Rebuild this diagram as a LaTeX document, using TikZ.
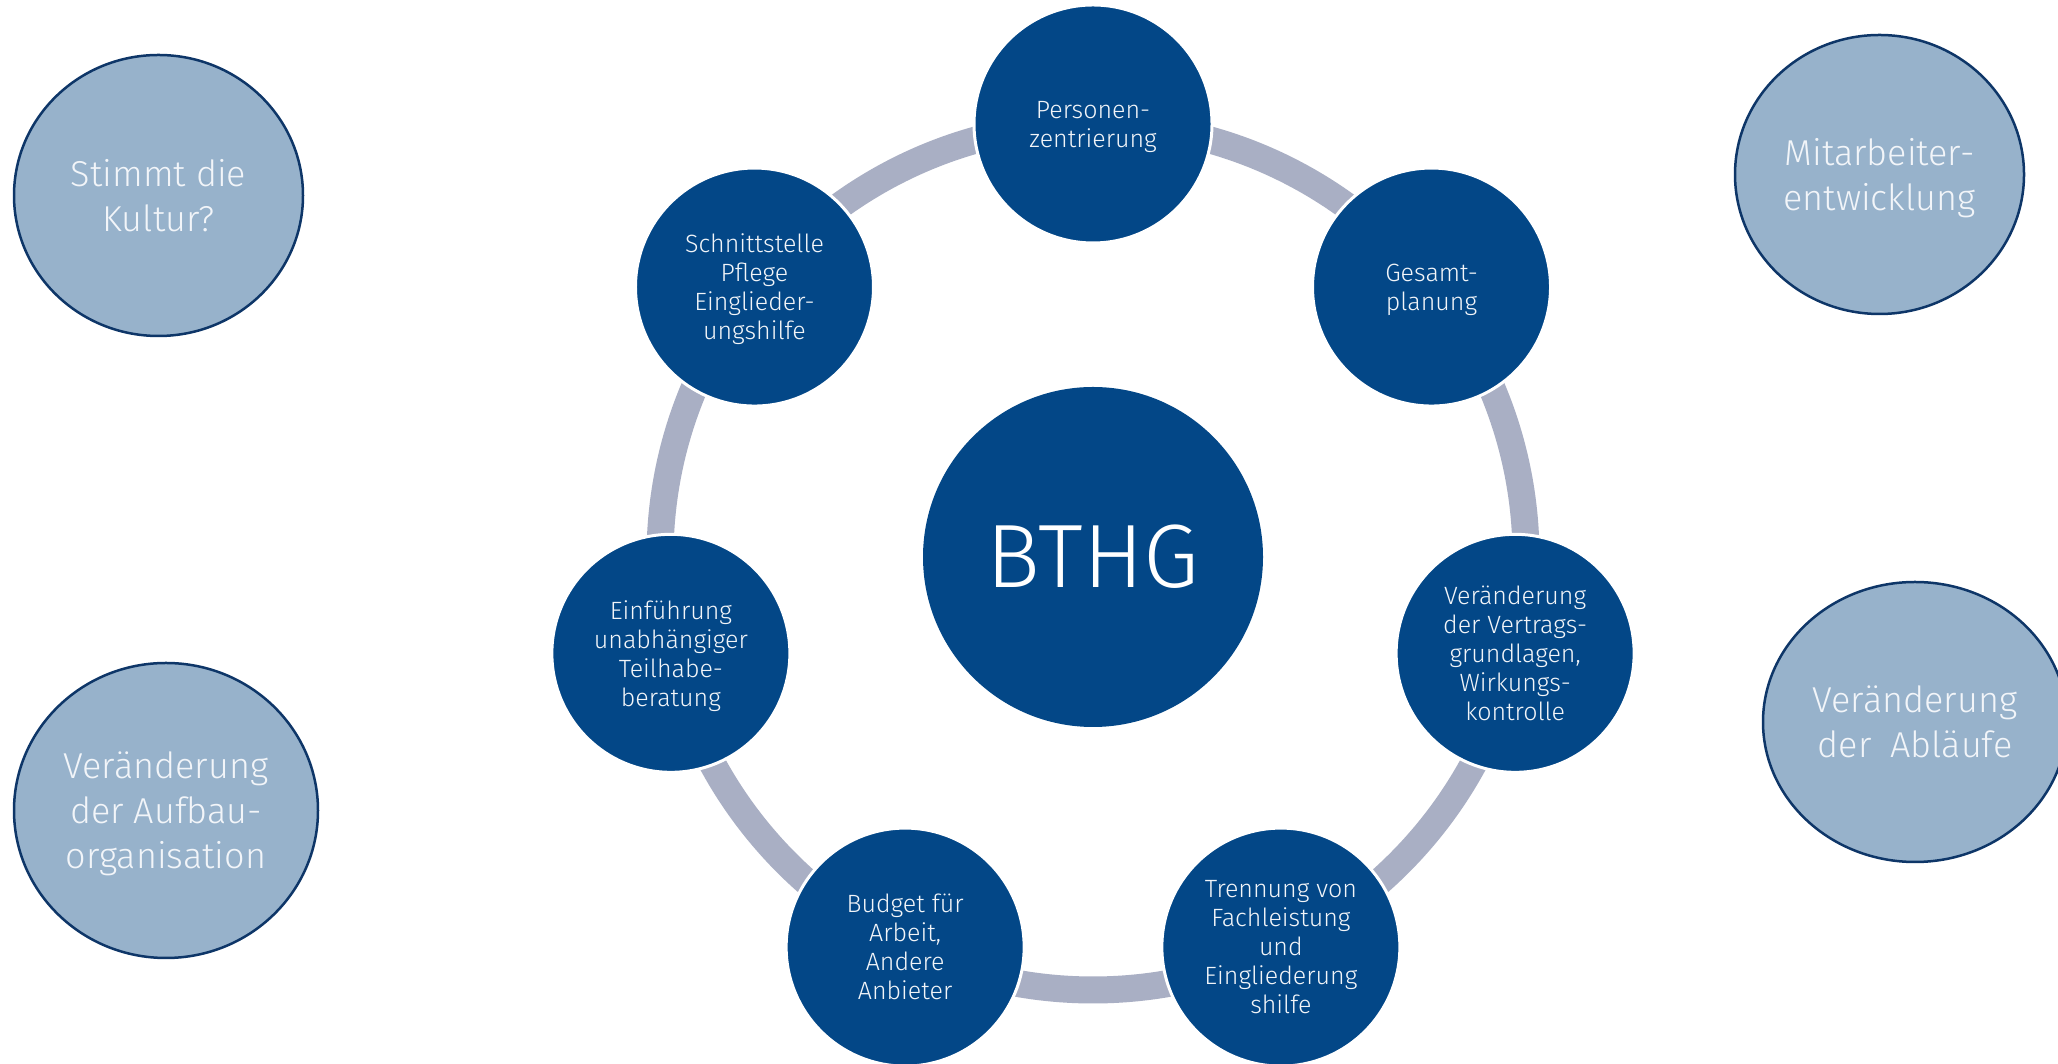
\documentclass[tikz,border=0pt]{standalone}
\usepackage{fontspec}
\setmainfont{Fira Sans}[UprightFont=* Light]
\usetikzlibrary{shapes.geometric}
\definecolor{dblue}{HTML}{034787}
\definecolor{lblue}{HTML}{97B2CB}
\definecolor{oline}{HTML}{0E3668}
\definecolor{ringc}{HTML}{A9AFC4}
\definecolor{softwhite}{HTML}{F2F5F9}
\begin{document}
\begin{tikzpicture}[x=1pt,y=1pt,
  sat/.style={circle,fill=dblue,draw=white,line width=3pt,minimum size=238pt,inner sep=0pt,
    text=softwhite,align=center,font=\fontsize{25}{29}\selectfont,text depth=-12pt},
  outer/.style={ellipse,fill=lblue,draw=oline,line width=2.5pt,inner sep=0pt,
    text=softwhite,align=center,font=\fontsize{36}{45}\selectfont,text depth=-12pt},
  core/.style={circle,fill=dblue,minimum size=340pt,inner sep=0pt,text=white,
    font=\fontsize{90}{100}\selectfont},
  ringline/.style={draw=ringc,line width=27pt}]
\clip (0,0) rectangle (2058,1064);
\fill[white] (0,0) rectangle (2058,1064);
\coordinate (c) at (1093,507);
% ring
\draw[ringline] (c) circle[radius=433pt];
% centre
\node[core] (bthg) at (c) {BTHG};
% satellites
\node[sat] (pers)  at ([shift={(90:433)}]c) {Personen-\\zentrierung};
\node[sat] (ges)   at ([shift={(38.571:433)}]c) {Gesamt-\\planung};
\node[sat] (vertr) at ([shift={(-12.857:433)}]c) {Veränderung\\der Vertrags-\\grundlagen,\\Wirkungs-\\kontrolle};
\node[sat] (trenn) at ([shift={(-64.286:433)}]c) {Trennung von\\Fachleistung\\und\\Eingliederung\\shilfe};
\node[sat] (budg)  at ([shift={(-115.714:433)}]c) {Budget für\\Arbeit,\\Andere\\Anbieter};
\node[sat] (einf)  at ([shift={(-167.143:433)}]c) {Einführung\\unabhängiger\\Teilhabe-\\beratung};
\node[sat] (schn)  at ([shift={(141.429:433)}]c) {Schnittstelle\\Pflege\\Einglieder-\\ungshilfe};
% outer ellipses
\node[outer,minimum width=289pt,minimum height=281pt] (kultur) at (158.5,868.5) {Stimmt die\\Kultur?};
\node[outer,minimum width=304pt,minimum height=295pt] (aufbau) at (166,253.5) {Veränderung\\der Aufbau-\\organisation};
\node[outer,minimum width=289pt,minimum height=279pt] (mitarb) at (1879.5,889.5) {Mitarbeiter-\\entwicklung};
\node[outer,minimum width=304pt,minimum height=280pt] (ablauf) at (1915,342) {Veränderung\\der\hspace{0.25em} Abläufe};
\end{tikzpicture}
\end{document}
